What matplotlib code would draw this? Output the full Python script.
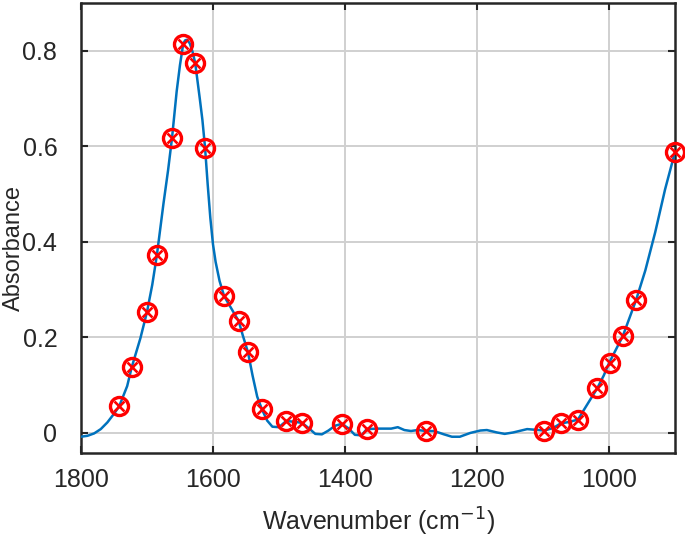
import numpy as np
import matplotlib
matplotlib.use("Agg")
import matplotlib.pyplot as plt

# spectrum (wavenumber, absorbance)
wn = [1800, 1790, 1780, 1770, 1760, 1750, 1742, 1730, 1723, 1710, 1700, 1692,
      1685, 1675, 1668, 1662, 1655, 1650, 1645, 1642, 1639, 1635, 1631, 1627,
      1620, 1616, 1612, 1608, 1604, 1600, 1596, 1590, 1583, 1572, 1561, 1555,
      1547, 1540, 1533, 1526, 1518, 1510, 1500, 1489, 1475, 1465, 1455, 1445,
      1435, 1425, 1415, 1405, 1395, 1385, 1375, 1367, 1350, 1330, 1320, 1310,
      1300, 1290, 1277, 1265, 1250, 1238, 1226, 1210, 1195, 1185, 1170, 1158,
      1145, 1124, 1098, 1085, 1073, 1060, 1047, 1035, 1018, 1008, 1000, 979,
      959, 945, 930, 915, 900]
absorb = [-0.008, -0.006, -0.001, 0.008, 0.022, 0.040, 0.056, 0.098, 0.138, 0.198,
          0.253, 0.310, 0.372, 0.480, 0.550, 0.618, 0.715, 0.770, 0.815, 0.822,
          0.823, 0.815, 0.798, 0.775, 0.700, 0.655, 0.597, 0.520, 0.450, 0.395,
          0.358, 0.318, 0.286, 0.260, 0.234, 0.205, 0.169, 0.120, 0.076, 0.050,
          0.026, 0.013, 0.012, 0.025, 0.023, 0.021, 0.010, -0.002, -0.003, 0.005,
          0.015, 0.019, 0.010, -0.004, -0.005, 0.008, 0.009, 0.009, 0.012, 0.006,
          0.004, 0.006, 0.004, 0.004, -0.003, -0.008, -0.008, 0.000, 0.005, 0.006,
          0.001, -0.002, 0.001, 0.008, 0.005, 0.010, 0.020, 0.023, 0.028, 0.055,
          0.093, 0.120, 0.146, 0.203, 0.278, 0.340, 0.420, 0.510, 0.588]

# marked points
pk_wn = [1742, 1723, 1700, 1685, 1662, 1645, 1627, 1612, 1583, 1561, 1547, 1526,
         1489, 1465, 1405, 1367, 1277, 1098, 1073, 1047, 1018, 999, 979, 959, 900]
pk_ab = [0.056, 0.138, 0.253, 0.372, 0.618, 0.815, 0.775, 0.597, 0.286, 0.234,
         0.169, 0.050, 0.025, 0.021, 0.019, 0.008, 0.004, 0.005, 0.020, 0.028,
         0.093, 0.146, 0.203, 0.278, 0.588]

plt.rcParams['font.family'] = ['Liberation Sans', 'DejaVu Sans']

fig = plt.figure(figsize=(6.85, 5.41), dpi=100)
ax = fig.add_axes([0.1182, 0.1627, 0.8672, 0.8318])

ax.plot(wn, absorb, color='#0072BD', lw=1.8, zorder=3, solid_joinstyle='round')
ax.plot(pk_wn, pk_ab, 'o', ms=13, mfc='none', mec='#FF0000', mew=2.4, zorder=4,
        clip_on=False)
ax.plot(pk_wn, pk_ab, 'x', ms=7.5, mec='#FF0000', mew=1.9, zorder=4, clip_on=False)

ax.set_xlim(1800, 900)
ax.set_ylim(-0.042, 0.9)
ax.set_xticks([1800, 1600, 1400, 1200, 1000])
ax.set_yticks([0, 0.2, 0.4, 0.6, 0.8])
ax.set_yticklabels(['0', '0.2', '0.4', '0.6', '0.8'])
ax.grid(True, color='#d0d0d0', lw=1.4)
ax.set_axisbelow(True)
ax.tick_params(direction='in', top=True, right=True, length=5, width=1.5,
               color='#262626', labelsize=18, labelcolor='#262626')
ax.tick_params(axis='x', pad=11)
ax.tick_params(axis='y', pad=17)
for s in ax.spines.values():
    s.set_linewidth(1.8)
    s.set_color('#262626')

ax.set_xlabel('Wavenumber (cm$^{-1}$)', fontsize=18, color='#262626', labelpad=10)
ax.set_ylabel('Absorbance', fontsize=17, color='#262626')
ax.yaxis.set_label_coords(-0.094, 0.455)

fig.savefig('out.png', dpi=100)
